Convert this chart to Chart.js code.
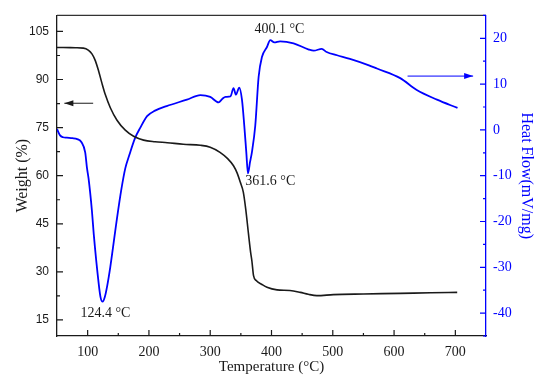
<html>
  <head>
    <title>TG-DSC</title>
    <script src="https://cdn.jsdelivr.net/npm/chart.js@4.4.1/dist/chart.umd.min.js"></script>
    <style>
      body { margin: 0; background: white; }
      canvas { display: block; }
    </style>
  </head>
  <body>
    <canvas id="tgChart" width="550" height="384"></canvas>
  </body>
  <script>
    // weight curve (TG)
    var weightTemp = [50, 60, 80, 93, 101, 107, 112.5, 118, 123.4, 128.8, 137, 147.9, 161.4, 175, 191.3, 210, 230, 256, 284, 300, 316, 328, 338, 344, 349, 354, 358, 362.6, 366, 368, 370.7, 375, 385, 392.6, 409, 430, 447, 460, 474, 501, 550, 610, 660, 703];
    var weight = [100, 100, 99.9, 99.8, 99.2, 98.0, 95.9, 92.6, 88.8, 85.3, 81.2, 77.3, 74.2, 72.3, 71.1, 70.6, 70.3, 69.8, 69.5, 68.9, 67.3, 65.4, 63.1, 60.8, 58, 54.9, 49.5, 41.6, 36, 33.4, 28.8, 27.3, 26, 25.2, 24.4, 24.2, 23.6, 23, 22.6, 22.9, 23.1, 23.3, 23.5, 23.6];

    // heat flow curve (DSC)
    var heatTemp = [50, 55, 60, 66, 75, 83, 90, 96, 99, 101.5, 107, 110, 118, 121, 124.4, 128, 132, 137, 148, 155, 161.4, 168, 177, 186, 197, 210, 229, 262, 284, 300, 313.6, 320, 325, 333, 338, 342, 347.4, 351.8, 355.6, 358.9, 361.6, 365, 368, 373.5, 379, 384.4, 392.6, 398, 404.5, 414, 436, 460, 469, 482, 490, 507, 528, 559, 572, 610, 637, 670, 703.5];
    var heatFlow = [0.2, -1.2, -1.6, -1.7, -1.8, -2.0, -2.7, -4.9, -8.4, -10.6, -17.7, -22.8, -33.5, -36.5, -37.5, -36.5, -34, -29.9, -19.2, -13, -8.4, -5.5, -1.9, 0.5, 3.0, 4.2, 5.2, 6.6, 7.6, 7.2, 6.0, 6.8, 7.2, 7.3, 9.1, 7.7, 9.25, 6.6, 0.9, -4.9, -9.5, -7, -4.9, 0.9, 11.6, 15.9, 18.1, 19.6, 19.1, 19.35, 18.9, 17.6, 17.3, 17.7, 17.0, 16.3, 15.5, 14.1, 13.4, 11.3, 8.7, 6.6, 4.8];

    var tempTicks = [100, 200, 300, 400, 500, 600, 700];
    var weightTicks = [15, 30, 45, 60, 75, 90, 105];
    var heatTicks = [-40, -30, -20, -10, 0, 10, 20];

    var BLUE = "#0000ff";
    var INK = "#1a1a1a";
    var serif = "'Liberation Serif', 'Times New Roman', serif";
    var sans = "'Liberation Sans', Arial, sans-serif";

    function setTicks(list) {
      return function (scale) {
        scale.ticks = list.map(function (v) { return { value: v }; });
      };
    }

    function midpoints(list) {
      var out = [];
      for (var i = 0; i < list.length - 1; i++) out.push((list[i] + list[i + 1]) / 2);
      return out;
    }

    // inward tick marks, frame top line, arrows and peak labels
    var decor = {
      id: "decor",
      afterDraw: function (chart) {
        var ctx = chart.ctx;
        var a = chart.chartArea;
        var sx = chart.scales.x, sw = chart.scales.yW, sh = chart.scales.yH;
        ctx.save();
        ctx.lineWidth = 1.2;

        // top frame line
        ctx.strokeStyle = "#333";
        ctx.beginPath();
        ctx.moveTo(a.left, a.top);
        ctx.lineTo(a.right, a.top);
        ctx.stroke();

        ctx.strokeStyle = INK;
        ctx.beginPath();
        tempTicks.forEach(function (v) {
          var p = sx.getPixelForValue(v);
          ctx.moveTo(p, a.bottom); ctx.lineTo(p, a.bottom - 6);
        });
        midpoints(tempTicks).forEach(function (v) {
          var p = sx.getPixelForValue(v);
          ctx.moveTo(p, a.bottom); ctx.lineTo(p, a.bottom - 3);
        });
        weightTicks.forEach(function (v) {
          var p = sw.getPixelForValue(v);
          ctx.moveTo(a.left, p); ctx.lineTo(a.left + 6, p);
        });
        midpoints(weightTicks).forEach(function (v) {
          var p = sw.getPixelForValue(v);
          ctx.moveTo(a.left, p); ctx.lineTo(a.left + 3, p);
        });
        ctx.stroke();

        ctx.strokeStyle = BLUE;
        ctx.beginPath();
        heatTicks.forEach(function (v) {
          var p = sh.getPixelForValue(v);
          ctx.moveTo(a.right, p); ctx.lineTo(a.right - 6, p);
        });
        midpoints(heatTicks).concat([25, -45]).forEach(function (v) {
          var p = sh.getPixelForValue(v);
          ctx.moveTo(a.right, p); ctx.lineTo(a.right - 3, p);
        });
        ctx.stroke();

        // arrows
        function arrow(x1, y1, x2, y2, color) {
          ctx.strokeStyle = color;
          ctx.fillStyle = color;
          ctx.lineWidth = 1;
          ctx.beginPath();
          ctx.moveTo(x1, y1); ctx.lineTo(x2, y2);
          ctx.stroke();
          var dir = x2 > x1 ? 1 : -1;
          ctx.beginPath();
          ctx.moveTo(x2, y2);
          ctx.lineTo(x2 - dir * 9, y2 - 3);
          ctx.lineTo(x2 - dir * 9, y2 + 3);
          ctx.closePath();
          ctx.fill();
        }
        var yl = sw.getPixelForValue(82.6);
        arrow(sx.getPixelForValue(109), yl, sx.getPixelForValue(62), yl, INK);
        var yr = sh.getPixelForValue(11.75);
        arrow(sx.getPixelForValue(622), yr, sx.getPixelForValue(729), yr, BLUE);

        // peak labels
        ctx.fillStyle = INK;
        ctx.font = "14px " + serif;
        ctx.textAlign = "center";
        ctx.textBaseline = "middle";
        ctx.fillText("124.4 \u00B0C", sx.getPixelForValue(129), sw.getPixelForValue(17.2));
        ctx.fillText("361.6 \u00B0C", sx.getPixelForValue(398), sh.getPixelForValue(-11.3));
        ctx.fillText("400.1 \u00B0C", sx.getPixelForValue(413), sh.getPixelForValue(22));
        ctx.restore();
      }
    };

    this.tgChart = new Chart(document.getElementById("tgChart"), {
      type: "line",
      data: {
        datasets: [
          {
            label: "Weight (%)",
            data: weightTemp.map(function (t, i) { return { x: t, y: weight[i] }; }),
            yAxisID: "yW",
            borderColor: INK,
            borderWidth: 1.6,
            pointRadius: 0,
            fill: false,
            cubicInterpolationMode: "monotone"
          },
          {
            label: "Heat Flow (mV/mg)",
            data: heatTemp.map(function (t, i) { return { x: t, y: heatFlow[i] }; }),
            yAxisID: "yH",
            borderColor: BLUE,
            borderWidth: 1.8,
            pointRadius: 0,
            fill: false,
            cubicInterpolationMode: "monotone"
          }
        ]
      },
      options: {
        responsive: false,
        animation: false,
        layout: { padding: { top: 11, left: 0, right: 0, bottom: 0 } },
        plugins: { legend: { display: false }, tooltip: { enabled: false } },
        scales: {
          x: {
            type: "linear",
            min: 50,
            max: 750,
            afterBuildTicks: setTicks(tempTicks),
            afterFit: function (s) { s.height = 48; },
            grid: { display: false, drawTicks: false },
            border: { color: INK, width: 1.3 },
            ticks: { color: INK, padding: 8, font: { family: serif, size: 14 } },
            title: { display: true, text: "Temperature (\u00B0C)", color: INK, font: { family: serif, size: 15 }, padding: { top: 0, bottom: 8 } }
          },
          yW: {
            type: "linear",
            position: "left",
            min: 10,
            max: 110,
            afterBuildTicks: setTicks(weightTicks),
            afterFit: function (s) { s.width = 57; },
            grid: { display: false, drawTicks: false },
            border: { color: INK, width: 1.3 },
            ticks: { color: INK, padding: 8, font: { family: sans, size: 12 } },
            title: { display: true, text: "Weight (%)", color: INK, font: { family: serif, size: 16 }, padding: { top: 13, bottom: 0 } }
          },
          yH: {
            type: "linear",
            position: "right",
            min: -45,
            max: 25,
            afterBuildTicks: setTicks(heatTicks),
            afterFit: function (s) { s.width = 64; },
            grid: { display: false, drawTicks: false },
            border: { color: BLUE, width: 1.3 },
            ticks: { color: BLUE, padding: 7, font: { family: serif, size: 14 } },
            title: { display: true, text: "Heat Flow(mV/mg)", color: BLUE, font: { family: serif, size: 16 }, padding: { top: 14, bottom: 0 } }
          }
        }
      },
      plugins: [decor]
    });
  </script>
</html>
